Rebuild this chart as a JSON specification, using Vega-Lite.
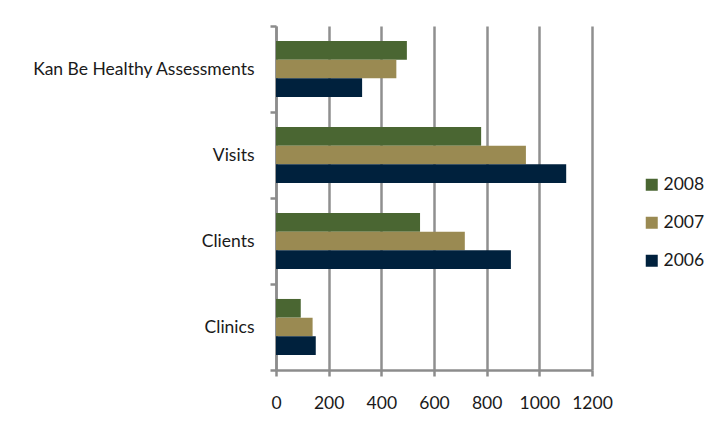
{
  "$schema": "https://vega.github.io/schema/vega-lite/v6.json",
  "autosize": "none",
  "width": 316,
  "height": 344,
  "padding": {"left": 276, "top": 26, "right": 122, "bottom": 62},
  "background": "white",
  "config": {
    "view": {"stroke": null},
    "font": "Lato",
    "axis": {"labelFont": "Lato", "labelColor": "#1a1a1a"},
    "legend": {"labelFont": "Lato"}
  },
  "data": {
    "values": [
      {"category": "Kan Be Healthy Assessments", "year": "2008", "value": 497},
      {"category": "Kan Be Healthy Assessments", "year": "2007", "value": 457},
      {"category": "Kan Be Healthy Assessments", "year": "2006", "value": 327},
      {"category": "Visits", "year": "2008", "value": 779},
      {"category": "Visits", "year": "2007", "value": 949},
      {"category": "Visits", "year": "2006", "value": 1102},
      {"category": "Clients", "year": "2008", "value": 547},
      {"category": "Clients", "year": "2007", "value": 717},
      {"category": "Clients", "year": "2006", "value": 892},
      {"category": "Clinics", "year": "2008", "value": 94},
      {"category": "Clinics", "year": "2007", "value": 139},
      {"category": "Clinics", "year": "2006", "value": 151}
    ]
  },
  "mark": {"type": "bar"},
  "encoding": {
    "y": {
      "field": "category",
      "type": "nominal",
      "sort": ["Kan Be Healthy Assessments", "Visits", "Clients", "Clinics"],
      "scale": {"paddingInner": 0, "paddingOuter": 0},
      "axis": {
        "title": null,
        "domainColor": "#8c8c8c",
        "domainWidth": 2.5,
        "tickBand": "extent",
        "tickColor": "#8c8c8c",
        "tickWidth": 2.5,
        "tickSize": 6,
        "labelFontSize": 17.5,
        "labelPadding": 16,
        "labelLimit": 300
      }
    },
    "yOffset": {
      "field": "year",
      "type": "nominal",
      "sort": ["2008", "2007", "2006"],
      "scale": {"paddingInner": 0, "paddingOuter": 0.8}
    },
    "x": {
      "field": "value",
      "type": "quantitative",
      "scale": {"domain": [0, 1200], "nice": false},
      "axis": {
        "title": null,
        "values": [0, 200, 400, 600, 800, 1000, 1200],
        "format": "d",
        "labelOverlap": false,
        "labelFlush": false,
        "grid": true,
        "gridColor": "#8f8f8f",
        "gridWidth": 2.5,
        "domainColor": "#8c8c8c",
        "domainWidth": 2.5,
        "tickColor": "#8c8c8c",
        "tickWidth": 2.5,
        "tickSize": 6,
        "labelFontSize": 17.5,
        "labelPadding": 18
      }
    },
    "color": {
      "field": "year",
      "type": "nominal",
      "sort": ["2008", "2007", "2006"],
      "scale": {"domain": ["2008", "2007", "2006"], "range": ["#4a6632", "#9a8a52", "#00213d"]},
      "legend": {
        "title": null,
        "orient": "none",
        "legendX": 367,
        "legendY": 150,
        "symbolType": "square",
        "symbolSize": 144,
        "symbolStrokeWidth": 0,
        "labelFontSize": 17.5,
        "labelColor": "#1a1a1a",
        "labelOffset": 3,
        "rowPadding": 19
      }
    }
  }
}
